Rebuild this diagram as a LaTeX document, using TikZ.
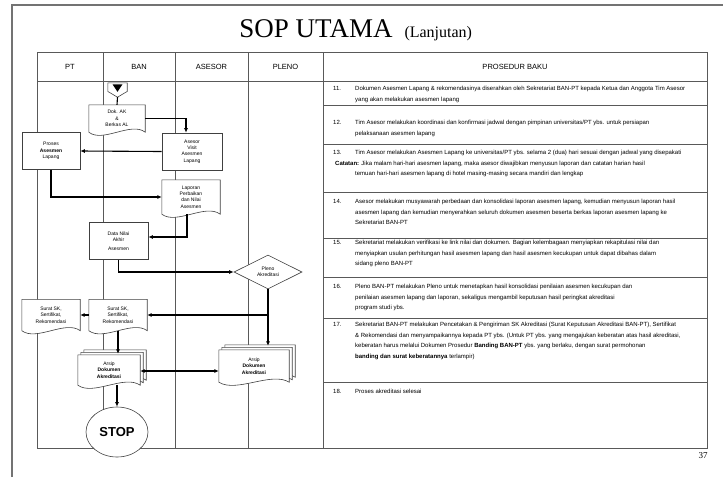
\documentclass[tikz,border=0pt]{standalone}
\usepackage{fontspec}
\setmainfont{Liberation Sans}
\newfontfamily\serifx{Liberation Serif}
\usetikzlibrary{shapes.geometric,calc,arrows.meta}
\pgfdeclarelayer{gridl}
\pgfdeclarelayer{shp}
\pgfsetlayers{gridl,shp,main}
\newcommand\docshape[3]{%
  \filldraw[shpline] ($(#1.north west)+(#2,#3)$) -- ($(#1.north east)+(#2,#3)$) -- ($(#1.south east)+(#2,#3)$)
   .. controls ($($(#1.south)!0.5!(#1.south east)$)+(#2,#3)+(0,-11)$) and ($($(#1.south)!0.5!(#1.south west)$)+(#2,#3)+(0,11)$) ..
   ($(#1.south west)+(#2,#3)$) -- cycle;}
\begin{document}
\begin{tikzpicture}[x=1pt,y=-1pt,
  gridline/.style={draw=black!65, line width=0.7pt},
  shpline/.style={draw=black!75, line width=0.6pt, fill=white},
  boxtext/.style={font=\fontsize{5}{6.3}\selectfont, align=center, inner sep=1pt},
  procbox/.style={boxtext, draw=black!75, line width=0.6pt, fill=white, minimum width=59pt, minimum height=37pt},
  docnode/.style={boxtext, minimum width=58pt, minimum height=31pt},
  conn/.style={line width=1.1pt, -{Latex[length=4.5pt,width=4pt]}},
  plain/.style={line width=1.1pt},
  rowtext/.style={font=\fontsize{6}{10.5}\selectfont, align=left, anchor=north west, inner sep=0pt},
  hdr/.style={font=\fontsize{7.5}{9}\selectfont}]
\useasboundingbox (0,0) rectangle (723,477);
\begin{pgfonlayer}{gridl}
 \fill[white] (0,0) rectangle (723,477);
 \draw[black!55, line width=1.6pt] (12,477) -- (12,5) -- (723,5);
 \draw[gridline] (37,52) rectangle (707,448);
 \draw[gridline] (37,81) -- (707,81);
 \foreach \x in {103,175,248,323} \draw[gridline] (\x,52) -- (\x,448);
 \foreach \y in {105,144,192,238,277,318,382} \draw[gridline] (323,\y) -- (707,\y);
\end{pgfonlayer}
% title
\node[font=\serifx\fontsize{27}{30}\selectfont, anchor=base] (title) at (316,37) {SOP UTAMA};
\node[font=\serifx\fontsize{16}{18}\selectfont, anchor=base west] (sub) at (401,37) {(Lanjutan)};
\node[font=\serifx\fontsize{9}{10}\selectfont] (pg) at (703,456) {37};
% headers
\node[hdr] (hpt) at (70,67) {PT};
\node[hdr] (hban) at (139,67) {BAN};
\node[hdr] (has) at (211.5,67) {ASESOR};
\node[hdr] (hpl) at (285.5,67) {PLENO};
\node[hdr] (hpro) at (515,67) {PROSEDUR BAKU};
% flow nodes
\node[minimum width=19pt, minimum height=14pt, inner sep=0pt] (start) at (117.5,90) {};
\node[docnode, minimum width=56pt, minimum height=27pt] (dok) at (117,118.5) {Dok. AK\\\&\\Berkas AL};
\node[procbox, minimum width=60pt] (asesor) at (192,151.5) {Asesor\\Visit\\Asesmen\\Lapang};
\node[procbox, minimum width=58pt] (ptbox) at (51,151) {Proses\\\textbf{Asesmen}\\Lapang};
\node[docnode, minimum height=34pt] (lapdoc) at (191,197) {Laporan\\Perbaikan\\dan Nilai\\Asesmen};
\node[procbox] (data) at (118.5,241) {Data Nilai\\Akhir\\[2pt]Asesmen};
\node[diamond, draw=black!75, line width=0.6pt, fill=white, boxtext, aspect=2, minimum width=68pt, minimum height=34pt, inner sep=0pt] (pleno) at (268,272) {Pleno\\Akreditasi};
\node[docnode] (suratB) at (118,315) {Surat SK,\\Sertifikat,\\Rekomendasi};
\node[docnode] (suratP) at (51,315) {Surat SK,\\Sertifikat,\\Rekomendasi};
\node[docnode, minimum width=62pt, minimum height=30pt] (arsipB) at (109,370) {Arsip\\\textbf{Dokumen}\\\textbf{Akreditasi}};
\node[docnode, minimum width=70pt, minimum height=32pt] (arsipP) at (254,366) {Arsip\\\textbf{Dokumen}\\\textbf{Akreditasi}};
\node[ellipse, draw=black!75, line width=0.6pt, fill=white, minimum width=62pt, minimum height=50pt, inner sep=0pt, font=\bfseries\fontsize{13}{14}\selectfont] (stop) at (117,432) {STOP};
% shapes
\begin{pgfonlayer}{shp}
 \filldraw[shpline] (start.north west) -- (start.north east) -- ($(start.north east)!0.6!(start.south east)$) -- (start.south) -- ($(start.north west)!0.6!(start.south west)$) -- cycle;
 \fill[black] ($(start.north)+(-5,1.5)$) -- ($(start.north)+(5,1.5)$) -- ($(start.north)+(0,9)$) -- cycle;
 \docshape{dok}{0}{0}
 \docshape{lapdoc}{0}{0}
 \docshape{suratB}{0}{0}
 \docshape{suratP}{0}{0}
 \docshape{arsipB}{6}{-5}
 \docshape{arsipB}{3}{-2.5}
 \docshape{arsipB}{0}{0}
 \docshape{arsipP}{6}{-5}
 \docshape{arsipP}{3}{-2.5}
 \docshape{arsipP}{0}{0}
\end{pgfonlayer}
% connectors
\draw[plain] (start.south) -- (dok.north);
\draw[conn] (dok.east) -| ($(asesor.north)+(-6,0)$);
\draw[conn] (asesor.west) -- (ptbox.east);
\draw[conn] (ptbox.south) |- (lapdoc.west);
\draw[conn] ($(lapdoc.south)+(-4,0)$) |- ($(data.east)+(0,-4)$);
\draw[conn] (data.south) |- (pleno.west);
\draw[conn] (pleno.south) -- ($(pleno.south |- arsipP.north)+(0,-4)$);
\draw[conn] (pleno.south |- suratB.east) -- (suratB.east);
\draw[conn] (suratB.west) -- (suratP.east);
\draw[conn] (suratB.south) -- ($(suratB.south |- arsipB.north)+(0,-1)$);
\draw[line width=1.1pt, {Latex[length=4.5pt,width=4pt]}-{Latex[length=4.5pt,width=4pt]}] ($(arsipB.east)+(0,1)$) -- ($(arsipP.west |- arsipB.east)+(0,1)$);
\draw[conn] (stop.north |- arsipB.south) -- (stop.north);
% procedure rows
\node[rowtext] (n11) at (333,86) {11.};
\node[rowtext] (t11) at (355,86) {Dokumen Asesmen Lapang \& rekomendasinya diserahkan oleh Sekretariat BAN-PT kepada Ketua dan Anggota Tim Asesor\\yang akan melakukan asesmen lapang};
\node[rowtext] (n12) at (333,120) {12.};
\node[rowtext] (t12) at (355,120) {Tim Asesor melakukan koordinasi dan konfirmasi jadwal dengan pimpinan universitas/PT ybs. untuk persiapan\\pelaksanaan asesmen lapang};
\node[rowtext] (n13) at (333,150) {13.};
\node[rowtext] (t13) at (355,150) {Tim Asesor melakukan Asesmen Lapang ke universitas/PT ybs. selama 2 (dua) hari sesuai dengan jadwal yang disepakati\\\hspace*{-20pt}\textbf{Catatan:} Jika malam hari-hari asesmen lapang, maka asesor diwajibkan menyusun laporan dan catatan harian hasil\\temuan hari-hari asesmen lapang di hotel masing-masing secara mandiri dan lengkap};
\node[rowtext] (n14) at (333,199) {14.};
\node[rowtext] (t14) at (355,199) {Asesor melakukan musyawarah perbedaan dan konsolidasi laporan asesmen lapang, kemudian menyusun laporan hasil\\asesmen lapang dan kemudian menyerahkan seluruh dokumen asesmen beserta berkas laporan asesmen lapang ke\\Sekretariat BAN-PT};
\node[rowtext] (n15) at (333,240) {15.};
\node[rowtext] (t15) at (355,240) {Sekretariat melakukan verifikasi ke link nilai dan dokumen. Bagian kelembagaan menyiapkan rekapitulasi nilai dan\\menyiapkan usulan perhitungan hasil asesmen lapang dan hasil asesmen kecukupan untuk dapat dibahas dalam\\sidang pleno BAN-PT};
\node[rowtext] (n16) at (333,284) {16.};
\node[rowtext] (t16) at (355,284) {Pleno BAN-PT melakukan Pleno untuk menetapkan hasil konsolidasi penilaian asesmen kecukupan dan\\penilaian asesmen lapang dan laporan, sekaligus mengambil keputusan hasil peringkat akreditasi\\program studi ybs.};
\node[rowtext] (n17) at (333,322) {17.};
\node[rowtext] (t17) at (355,322) {Sekretariat BAN-PT melakukan Pencetakan \& Pengiriman SK Akreditasi (Surat Keputusan Akreditasi BAN-PT), Sertifikat\\\& Rekomendasi dan menyampaikannya kepada PT ybs. (Untuk PT ybs. yang mengajukan keberatan atas hasil akreditasi,\\keberatan harus melalui Dokumen Prosedur \textbf{Banding BAN-PT} ybs. yang berlaku, dengan surat permohonan\\\textbf{banding dan surat keberatannya} terlampir)};
\node[rowtext] (n18) at (333,389) {18.};
\node[rowtext] (t18) at (355,389) {Proses akreditasi selesai};
\end{tikzpicture}
\end{document}
